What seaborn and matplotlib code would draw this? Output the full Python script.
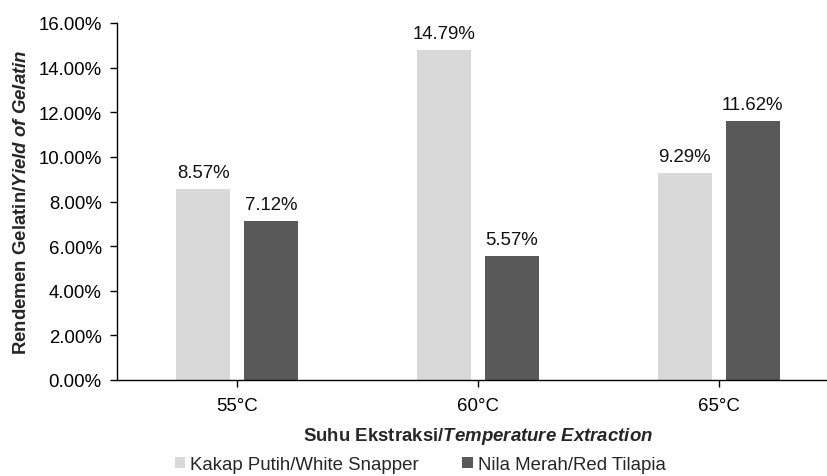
import pandas as pd
import matplotlib
matplotlib.use("Agg")
import matplotlib.pyplot as plt
import seaborn as sns
from matplotlib.patches import Patch

# data
temperatures = ["55°C", "60°C", "65°C"]
species = ["Kakap Putih/White Snapper", "Nila Merah/Red Tilapia"]
white_snapper = [8.57, 14.79, 9.29]
red_tilapia = [7.12, 5.57, 11.62]
y_ticks = [0, 2, 4, 6, 8, 10, 12, 14, 16]

colors = ["#d9d9d9", "#595959"]
fs = 13.4

df = pd.DataFrame({
    "Suhu": temperatures * 2,
    "Spesies": [species[0]] * 3 + [species[1]] * 3,
    "Rendemen": white_snapper + red_tilapia,
})

sns.set_style("white")
plt.rcParams["font.family"] = ["Liberation Sans", "DejaVu Sans"]
plt.rcParams["mathtext.fontset"] = "custom"
plt.rcParams["mathtext.rm"] = "Liberation Sans"
plt.rcParams["mathtext.it"] = "Liberation Sans:italic"
plt.rcParams["mathtext.bf"] = "Liberation Sans:bold"
plt.rcParams["mathtext.bfit"] = "Liberation Sans:italic:bold"

fig = plt.figure(figsize=(8.27, 4.77), dpi=100)
ax = fig.add_axes([117 / 827, 96 / 477, 722 / 827, 357 / 477])

sns.barplot(data=df, x="Suhu", y="Rendemen", hue="Spesies", order=temperatures,
            hue_order=species, palette=colors, width=0.564, gap=0.206,
            saturation=1, edgecolor="none", legend=False, ax=ax)

for cont in ax.containers:
    for bar in cont:
        h = bar.get_height()
        ax.annotate(f"{h:.2f}%", (bar.get_x() + bar.get_width() / 2, h),
                    xytext=(0, 8.5), textcoords="offset points",
                    ha="center", va="baseline", fontsize=fs, color="#111111")

ax.set_ylim(0, 16)
ax.set_xlim(-0.5, 2.5)
ax.set_yticks(y_ticks)
ax.set_yticklabels([f"{v:.2f}%" for v in y_ticks])
ax.tick_params(axis="both", labelsize=fs, colors="black", length=5, width=1,
               direction="out")
ax.tick_params(axis="y", pad=6)
ax.tick_params(axis="x", pad=7)
ax.yaxis.set_ticks_position("left")
ax.xaxis.set_ticks_position("bottom")
sns.despine(ax=ax)
for side in ["left", "bottom"]:
    ax.spines[side].set_color("black")
    ax.spines[side].set_linewidth(1)

ax.set_ylabel(r"Rendemen Gelatin/$\mathbfit{Yield\ of\ Gelatin}$",
              fontsize=fs, fontweight="bold", labelpad=6)
ax.set_xlabel(r"Suhu Ekstraksi/$\mathbfit{Temperature\ Extraction}$",
              fontsize=fs, fontweight="bold", labelpad=8)

handles = [Patch(facecolor=c, edgecolor="none") for c in colors]
fig.legend(handles, species, loc="center", bbox_to_anchor=(0.508, 0.024),
           ncol=2, frameon=False, fontsize=fs, handlelength=0.56,
           handleheight=0.56, handletextpad=0.27, columnspacing=2.35,
           borderpad=0.2)

fig.savefig("out.png", dpi=100)
